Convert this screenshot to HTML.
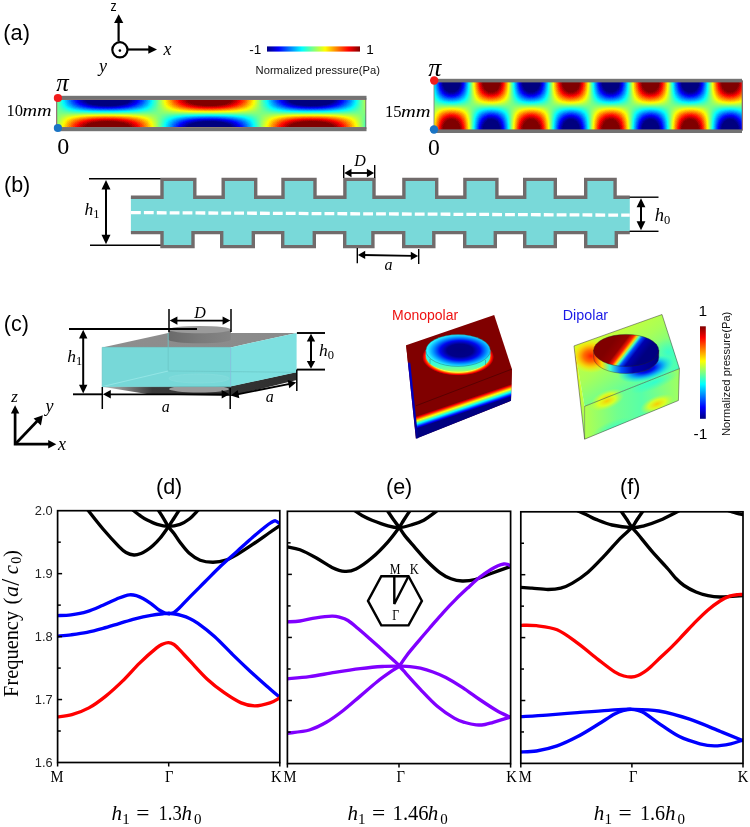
<!DOCTYPE html>
<html><head><meta charset="utf-8"><title>Figure</title>
<style>html,body{margin:0;padding:0;background:#fff;}svg{display:block;will-change:transform;}</style></head>
<body><svg width="750" height="827" viewBox="0 0 750 827">
<defs>
<linearGradient id="cbh" x1="0" y1="0" x2="1" y2="0"><stop offset="0.000" stop-color="#000080"/><stop offset="0.062" stop-color="#0000bf"/><stop offset="0.125" stop-color="#0000ff"/><stop offset="0.188" stop-color="#0040ff"/><stop offset="0.250" stop-color="#0080ff"/><stop offset="0.312" stop-color="#00bfff"/><stop offset="0.375" stop-color="#00ffff"/><stop offset="0.438" stop-color="#40ffbf"/><stop offset="0.500" stop-color="#80ff80"/><stop offset="0.562" stop-color="#bfff40"/><stop offset="0.625" stop-color="#ffff00"/><stop offset="0.688" stop-color="#ffbf00"/><stop offset="0.750" stop-color="#ff8000"/><stop offset="0.812" stop-color="#ff4000"/><stop offset="0.875" stop-color="#ff0000"/><stop offset="0.938" stop-color="#bf0000"/><stop offset="1.000" stop-color="#800000"/></linearGradient>
<filter id="jetf1" x="0" y="0" width="1" height="1" color-interpolation-filters="sRGB">
<feColorMatrix in="SourceGraphic" type="matrix" values="2 0 0 0 0 2 0 0 0 0 2 0 0 0 0 0 0 0 1 0" result="P"/>
<feColorMatrix in="SourceGraphic" type="matrix" values="0 2 0 0 0 0 2 0 0 0 0 2 0 0 0 0 0 0 1 0" result="Q"/>
<feComposite in="P" in2="Q" operator="arithmetic" k1="2" k2="-1" k3="-1" k4="1" result="V"/>
<feComponentTransfer in="V"><feFuncR type="table" tableValues="0 0 0 0 0 0 0 0 0 0 0 0 0 0 0 0 0 0 0 0 0 0 0 0 0 0 0.02 0.1 0.18 0.26 0.34 0.42 0.5 0.58 0.66 0.74 0.82 0.9 0.98 1 1 1 1 1 1 1 1 1 1 1 1 0.98 0.9 0.82 0.74 0.66 0.58 0.5 0.5 0.5 0.5 0.5 0.5 0.5 0.5"/><feFuncG type="table" tableValues="0 0 0 0 0 0 0 0 0 0 0 0 0 0 0.06 0.14 0.22 0.3 0.38 0.46 0.54 0.62 0.7 0.78 0.86 0.94 1 1 1 1 1 1 1 1 1 1 1 1 1 0.94 0.86 0.78 0.7 0.62 0.54 0.46 0.38 0.3 0.22 0.14 0.06 0 0 0 0 0 0 0 0 0 0 0 0 0 0"/><feFuncB type="table" tableValues="0.5 0.5 0.5 0.5 0.5 0.5 0.5 0.5 0.58 0.66 0.74 0.82 0.9 0.98 1 1 1 1 1 1 1 1 1 1 1 1 0.98 0.9 0.82 0.74 0.66 0.58 0.5 0.42 0.34 0.26 0.18 0.1 0.02 0 0 0 0 0 0 0 0 0 0 0 0 0 0 0 0 0 0 0 0 0 0 0 0 0 0"/><feFuncA type="identity"/></feComponentTransfer>
</filter>
<linearGradient id="f1h" gradientUnits="userSpaceOnUse" x1="56.5" y1="0" x2="366" y2="0"><stop offset="0.0000" stop-color="rgb(127,0,0)"/><stop offset="0.0097" stop-color="rgb(116,0,0)"/><stop offset="0.0194" stop-color="rgb(104,0,0)"/><stop offset="0.0291" stop-color="rgb(93,0,0)"/><stop offset="0.0388" stop-color="rgb(81,0,0)"/><stop offset="0.0485" stop-color="rgb(71,0,0)"/><stop offset="0.0583" stop-color="rgb(60,0,0)"/><stop offset="0.0680" stop-color="rgb(51,0,0)"/><stop offset="0.0777" stop-color="rgb(41,0,0)"/><stop offset="0.0874" stop-color="rgb(33,0,0)"/><stop offset="0.0971" stop-color="rgb(26,0,0)"/><stop offset="0.1068" stop-color="rgb(19,0,0)"/><stop offset="0.1165" stop-color="rgb(13,0,0)"/><stop offset="0.1262" stop-color="rgb(9,0,0)"/><stop offset="0.1359" stop-color="rgb(5,0,0)"/><stop offset="0.1456" stop-color="rgb(2,0,0)"/><stop offset="0.1553" stop-color="rgb(1,0,0)"/><stop offset="0.1650" stop-color="rgb(0,0,0)"/><stop offset="0.1748" stop-color="rgb(1,0,0)"/><stop offset="0.1845" stop-color="rgb(2,0,0)"/><stop offset="0.1942" stop-color="rgb(5,0,0)"/><stop offset="0.2039" stop-color="rgb(9,0,0)"/><stop offset="0.2136" stop-color="rgb(14,0,0)"/><stop offset="0.2233" stop-color="rgb(19,0,0)"/><stop offset="0.2330" stop-color="rgb(26,0,0)"/><stop offset="0.2427" stop-color="rgb(34,0,0)"/><stop offset="0.2524" stop-color="rgb(42,0,0)"/><stop offset="0.2621" stop-color="rgb(51,0,0)"/><stop offset="0.2718" stop-color="rgb(61,0,0)"/><stop offset="0.2816" stop-color="rgb(71,0,0)"/><stop offset="0.2913" stop-color="rgb(82,0,0)"/><stop offset="0.3010" stop-color="rgb(93,0,0)"/><stop offset="0.3107" stop-color="rgb(105,0,0)"/><stop offset="0.3204" stop-color="rgb(116,0,0)"/><stop offset="0.3301" stop-color="rgb(128,0,0)"/><stop offset="0.3398" stop-color="rgb(140,0,0)"/><stop offset="0.3495" stop-color="rgb(152,0,0)"/><stop offset="0.3592" stop-color="rgb(163,0,0)"/><stop offset="0.3689" stop-color="rgb(174,0,0)"/><stop offset="0.3786" stop-color="rgb(185,0,0)"/><stop offset="0.3883" stop-color="rgb(195,0,0)"/><stop offset="0.3981" stop-color="rgb(205,0,0)"/><stop offset="0.4078" stop-color="rgb(214,0,0)"/><stop offset="0.4175" stop-color="rgb(222,0,0)"/><stop offset="0.4272" stop-color="rgb(230,0,0)"/><stop offset="0.4369" stop-color="rgb(236,0,0)"/><stop offset="0.4466" stop-color="rgb(242,0,0)"/><stop offset="0.4563" stop-color="rgb(247,0,0)"/><stop offset="0.4660" stop-color="rgb(250,0,0)"/><stop offset="0.4757" stop-color="rgb(253,0,0)"/><stop offset="0.4854" stop-color="rgb(255,0,0)"/><stop offset="0.4951" stop-color="rgb(255,0,0)"/><stop offset="0.5049" stop-color="rgb(254,0,0)"/><stop offset="0.5146" stop-color="rgb(253,0,0)"/><stop offset="0.5243" stop-color="rgb(250,0,0)"/><stop offset="0.5340" stop-color="rgb(246,0,0)"/><stop offset="0.5437" stop-color="rgb(241,0,0)"/><stop offset="0.5534" stop-color="rgb(235,0,0)"/><stop offset="0.5631" stop-color="rgb(229,0,0)"/><stop offset="0.5728" stop-color="rgb(221,0,0)"/><stop offset="0.5825" stop-color="rgb(213,0,0)"/><stop offset="0.5922" stop-color="rgb(203,0,0)"/><stop offset="0.6019" stop-color="rgb(194,0,0)"/><stop offset="0.6117" stop-color="rgb(183,0,0)"/><stop offset="0.6214" stop-color="rgb(172,0,0)"/><stop offset="0.6311" stop-color="rgb(161,0,0)"/><stop offset="0.6408" stop-color="rgb(150,0,0)"/><stop offset="0.6505" stop-color="rgb(138,0,0)"/><stop offset="0.6602" stop-color="rgb(126,0,0)"/><stop offset="0.6699" stop-color="rgb(114,0,0)"/><stop offset="0.6796" stop-color="rgb(103,0,0)"/><stop offset="0.6893" stop-color="rgb(91,0,0)"/><stop offset="0.6990" stop-color="rgb(80,0,0)"/><stop offset="0.7087" stop-color="rgb(69,0,0)"/><stop offset="0.7184" stop-color="rgb(59,0,0)"/><stop offset="0.7282" stop-color="rgb(50,0,0)"/><stop offset="0.7379" stop-color="rgb(41,0,0)"/><stop offset="0.7476" stop-color="rgb(32,0,0)"/><stop offset="0.7573" stop-color="rgb(25,0,0)"/><stop offset="0.7670" stop-color="rgb(18,0,0)"/><stop offset="0.7767" stop-color="rgb(13,0,0)"/><stop offset="0.7864" stop-color="rgb(8,0,0)"/><stop offset="0.7961" stop-color="rgb(4,0,0)"/><stop offset="0.8058" stop-color="rgb(2,0,0)"/><stop offset="0.8155" stop-color="rgb(0,0,0)"/><stop offset="0.8252" stop-color="rgb(0,0,0)"/><stop offset="0.8350" stop-color="rgb(1,0,0)"/><stop offset="0.8447" stop-color="rgb(2,0,0)"/><stop offset="0.8544" stop-color="rgb(5,0,0)"/><stop offset="0.8641" stop-color="rgb(9,0,0)"/><stop offset="0.8738" stop-color="rgb(14,0,0)"/><stop offset="0.8835" stop-color="rgb(20,0,0)"/><stop offset="0.8932" stop-color="rgb(27,0,0)"/><stop offset="0.9029" stop-color="rgb(34,0,0)"/><stop offset="0.9126" stop-color="rgb(43,0,0)"/><stop offset="0.9223" stop-color="rgb(52,0,0)"/><stop offset="0.9320" stop-color="rgb(62,0,0)"/><stop offset="0.9417" stop-color="rgb(72,0,0)"/><stop offset="0.9515" stop-color="rgb(83,0,0)"/><stop offset="0.9612" stop-color="rgb(94,0,0)"/><stop offset="0.9709" stop-color="rgb(106,0,0)"/><stop offset="0.9806" stop-color="rgb(118,0,0)"/><stop offset="0.9903" stop-color="rgb(129,0,0)"/><stop offset="1.0000" stop-color="rgb(141,0,0)"/></linearGradient>
<linearGradient id="f1v" gradientUnits="userSpaceOnUse" x1="0" y1="99.5" x2="0" y2="127.5"><stop offset="0.0000" stop-color="rgb(0,255,0)"/><stop offset="0.0417" stop-color="rgb(0,254,0)"/><stop offset="0.0833" stop-color="rgb(0,251,0)"/><stop offset="0.1250" stop-color="rgb(0,245,0)"/><stop offset="0.1667" stop-color="rgb(0,238,0)"/><stop offset="0.2083" stop-color="rgb(0,229,0)"/><stop offset="0.2500" stop-color="rgb(0,218,0)"/><stop offset="0.2917" stop-color="rgb(0,205,0)"/><stop offset="0.3333" stop-color="rgb(0,191,0)"/><stop offset="0.3750" stop-color="rgb(0,176,0)"/><stop offset="0.4167" stop-color="rgb(0,160,0)"/><stop offset="0.4583" stop-color="rgb(0,144,0)"/><stop offset="0.5000" stop-color="rgb(0,128,0)"/><stop offset="0.5417" stop-color="rgb(0,111,0)"/><stop offset="0.5833" stop-color="rgb(0,95,0)"/><stop offset="0.6250" stop-color="rgb(0,79,0)"/><stop offset="0.6667" stop-color="rgb(0,64,0)"/><stop offset="0.7083" stop-color="rgb(0,50,0)"/><stop offset="0.7500" stop-color="rgb(0,37,0)"/><stop offset="0.7917" stop-color="rgb(0,26,0)"/><stop offset="0.8333" stop-color="rgb(0,17,0)"/><stop offset="0.8750" stop-color="rgb(0,10,0)"/><stop offset="0.9167" stop-color="rgb(0,4,0)"/><stop offset="0.9583" stop-color="rgb(0,1,0)"/><stop offset="1.0000" stop-color="rgb(0,0,0)"/></linearGradient>
<filter id="jetf2" x="0" y="0" width="1" height="1" color-interpolation-filters="sRGB">
<feColorMatrix in="SourceGraphic" type="matrix" values="2 0 0 0 0 2 0 0 0 0 2 0 0 0 0 0 0 0 1 0" result="P"/>
<feColorMatrix in="SourceGraphic" type="matrix" values="0 2 0 0 0 0 2 0 0 0 0 2 0 0 0 0 0 0 1 0" result="Q"/>
<feComposite in="P" in2="Q" operator="arithmetic" k1="2" k2="-1" k3="-1" k4="1" result="V"/>
<feComponentTransfer in="V"><feFuncR type="table" tableValues="0 0 0 0 0 0 0 0 0 0 0 0 0 0 0 0 0 0 0 0 0 0 0 0 0 0 0.02 0.1 0.18 0.26 0.34 0.42 0.5 0.58 0.66 0.74 0.82 0.9 0.98 1 1 1 1 1 1 1 1 1 1 1 1 0.98 0.9 0.82 0.74 0.66 0.58 0.5 0.5 0.5 0.5 0.5 0.5 0.5 0.5"/><feFuncG type="table" tableValues="0 0 0 0 0 0 0 0 0 0 0 0 0 0 0.06 0.14 0.22 0.3 0.38 0.46 0.54 0.62 0.7 0.78 0.86 0.94 1 1 1 1 1 1 1 1 1 1 1 1 1 0.94 0.86 0.78 0.7 0.62 0.54 0.46 0.38 0.3 0.22 0.14 0.06 0 0 0 0 0 0 0 0 0 0 0 0 0 0"/><feFuncB type="table" tableValues="0.5 0.5 0.5 0.5 0.5 0.5 0.5 0.5 0.58 0.66 0.74 0.82 0.9 0.98 1 1 1 1 1 1 1 1 1 1 1 1 0.98 0.9 0.82 0.74 0.66 0.58 0.5 0.42 0.34 0.26 0.18 0.1 0.02 0 0 0 0 0 0 0 0 0 0 0 0 0 0 0 0 0 0 0 0 0 0 0 0 0 0"/><feFuncA type="identity"/></feComponentTransfer>
</filter>
<linearGradient id="f2h" gradientUnits="userSpaceOnUse" x1="434" y1="0" x2="742.5" y2="0"><stop offset="0.0000" stop-color="rgb(103,0,0)"/><stop offset="0.0098" stop-color="rgb(75,0,0)"/><stop offset="0.0196" stop-color="rgb(49,0,0)"/><stop offset="0.0294" stop-color="rgb(27,0,0)"/><stop offset="0.0392" stop-color="rgb(11,0,0)"/><stop offset="0.0490" stop-color="rgb(2,0,0)"/><stop offset="0.0588" stop-color="rgb(0,0,0)"/><stop offset="0.0686" stop-color="rgb(5,0,0)"/><stop offset="0.0784" stop-color="rgb(17,0,0)"/><stop offset="0.0882" stop-color="rgb(36,0,0)"/><stop offset="0.0980" stop-color="rgb(59,0,0)"/><stop offset="0.1078" stop-color="rgb(87,0,0)"/><stop offset="0.1176" stop-color="rgb(116,0,0)"/><stop offset="0.1275" stop-color="rgb(147,0,0)"/><stop offset="0.1373" stop-color="rgb(176,0,0)"/><stop offset="0.1471" stop-color="rgb(203,0,0)"/><stop offset="0.1569" stop-color="rgb(225,0,0)"/><stop offset="0.1667" stop-color="rgb(241,0,0)"/><stop offset="0.1765" stop-color="rgb(252,0,0)"/><stop offset="0.1863" stop-color="rgb(255,0,0)"/><stop offset="0.1961" stop-color="rgb(251,0,0)"/><stop offset="0.2059" stop-color="rgb(240,0,0)"/><stop offset="0.2157" stop-color="rgb(223,0,0)"/><stop offset="0.2255" stop-color="rgb(200,0,0)"/><stop offset="0.2353" stop-color="rgb(173,0,0)"/><stop offset="0.2451" stop-color="rgb(143,0,0)"/><stop offset="0.2549" stop-color="rgb(113,0,0)"/><stop offset="0.2647" stop-color="rgb(84,0,0)"/><stop offset="0.2745" stop-color="rgb(56,0,0)"/><stop offset="0.2843" stop-color="rgb(33,0,0)"/><stop offset="0.2941" stop-color="rgb(16,0,0)"/><stop offset="0.3039" stop-color="rgb(4,0,0)"/><stop offset="0.3137" stop-color="rgb(0,0,0)"/><stop offset="0.3235" stop-color="rgb(3,0,0)"/><stop offset="0.3333" stop-color="rgb(13,0,0)"/><stop offset="0.3431" stop-color="rgb(29,0,0)"/><stop offset="0.3529" stop-color="rgb(51,0,0)"/><stop offset="0.3627" stop-color="rgb(78,0,0)"/><stop offset="0.3725" stop-color="rgb(107,0,0)"/><stop offset="0.3824" stop-color="rgb(137,0,0)"/><stop offset="0.3922" stop-color="rgb(167,0,0)"/><stop offset="0.4020" stop-color="rgb(194,0,0)"/><stop offset="0.4118" stop-color="rgb(218,0,0)"/><stop offset="0.4216" stop-color="rgb(237,0,0)"/><stop offset="0.4314" stop-color="rgb(249,0,0)"/><stop offset="0.4412" stop-color="rgb(255,0,0)"/><stop offset="0.4510" stop-color="rgb(253,0,0)"/><stop offset="0.4608" stop-color="rgb(244,0,0)"/><stop offset="0.4706" stop-color="rgb(229,0,0)"/><stop offset="0.4804" stop-color="rgb(208,0,0)"/><stop offset="0.4902" stop-color="rgb(182,0,0)"/><stop offset="0.5000" stop-color="rgb(153,0,0)"/><stop offset="0.5098" stop-color="rgb(123,0,0)"/><stop offset="0.5196" stop-color="rgb(93,0,0)"/><stop offset="0.5294" stop-color="rgb(65,0,0)"/><stop offset="0.5392" stop-color="rgb(40,0,0)"/><stop offset="0.5490" stop-color="rgb(21,0,0)"/><stop offset="0.5588" stop-color="rgb(7,0,0)"/><stop offset="0.5686" stop-color="rgb(1,0,0)"/><stop offset="0.5784" stop-color="rgb(1,0,0)"/><stop offset="0.5882" stop-color="rgb(9,0,0)"/><stop offset="0.5980" stop-color="rgb(23,0,0)"/><stop offset="0.6078" stop-color="rgb(44,0,0)"/><stop offset="0.6176" stop-color="rgb(69,0,0)"/><stop offset="0.6275" stop-color="rgb(97,0,0)"/><stop offset="0.6373" stop-color="rgb(127,0,0)"/><stop offset="0.6471" stop-color="rgb(158,0,0)"/><stop offset="0.6569" stop-color="rgb(186,0,0)"/><stop offset="0.6667" stop-color="rgb(211,0,0)"/><stop offset="0.6765" stop-color="rgb(232,0,0)"/><stop offset="0.6863" stop-color="rgb(246,0,0)"/><stop offset="0.6961" stop-color="rgb(254,0,0)"/><stop offset="0.7059" stop-color="rgb(254,0,0)"/><stop offset="0.7157" stop-color="rgb(248,0,0)"/><stop offset="0.7255" stop-color="rgb(234,0,0)"/><stop offset="0.7353" stop-color="rgb(215,0,0)"/><stop offset="0.7451" stop-color="rgb(190,0,0)"/><stop offset="0.7549" stop-color="rgb(162,0,0)"/><stop offset="0.7647" stop-color="rgb(132,0,0)"/><stop offset="0.7745" stop-color="rgb(102,0,0)"/><stop offset="0.7843" stop-color="rgb(73,0,0)"/><stop offset="0.7941" stop-color="rgb(48,0,0)"/><stop offset="0.8039" stop-color="rgb(26,0,0)"/><stop offset="0.8137" stop-color="rgb(11,0,0)"/><stop offset="0.8235" stop-color="rgb(2,0,0)"/><stop offset="0.8333" stop-color="rgb(0,0,0)"/><stop offset="0.8431" stop-color="rgb(6,0,0)"/><stop offset="0.8529" stop-color="rgb(18,0,0)"/><stop offset="0.8627" stop-color="rgb(37,0,0)"/><stop offset="0.8725" stop-color="rgb(60,0,0)"/><stop offset="0.8824" stop-color="rgb(88,0,0)"/><stop offset="0.8922" stop-color="rgb(118,0,0)"/><stop offset="0.9020" stop-color="rgb(148,0,0)"/><stop offset="0.9118" stop-color="rgb(177,0,0)"/><stop offset="0.9216" stop-color="rgb(204,0,0)"/><stop offset="0.9314" stop-color="rgb(226,0,0)"/><stop offset="0.9412" stop-color="rgb(242,0,0)"/><stop offset="0.9510" stop-color="rgb(252,0,0)"/><stop offset="0.9608" stop-color="rgb(255,0,0)"/><stop offset="0.9706" stop-color="rgb(251,0,0)"/><stop offset="0.9804" stop-color="rgb(239,0,0)"/><stop offset="0.9902" stop-color="rgb(222,0,0)"/><stop offset="1.0000" stop-color="rgb(199,0,0)"/></linearGradient>
<linearGradient id="f2v" gradientUnits="userSpaceOnUse" x1="0" y1="81.5" x2="0" y2="130"><stop offset="0.0000" stop-color="rgb(0,255,0)"/><stop offset="0.0417" stop-color="rgb(0,254,0)"/><stop offset="0.0833" stop-color="rgb(0,251,0)"/><stop offset="0.1250" stop-color="rgb(0,245,0)"/><stop offset="0.1667" stop-color="rgb(0,238,0)"/><stop offset="0.2083" stop-color="rgb(0,229,0)"/><stop offset="0.2500" stop-color="rgb(0,218,0)"/><stop offset="0.2917" stop-color="rgb(0,205,0)"/><stop offset="0.3333" stop-color="rgb(0,191,0)"/><stop offset="0.3750" stop-color="rgb(0,176,0)"/><stop offset="0.4167" stop-color="rgb(0,160,0)"/><stop offset="0.4583" stop-color="rgb(0,144,0)"/><stop offset="0.5000" stop-color="rgb(0,128,0)"/><stop offset="0.5417" stop-color="rgb(0,111,0)"/><stop offset="0.5833" stop-color="rgb(0,95,0)"/><stop offset="0.6250" stop-color="rgb(0,79,0)"/><stop offset="0.6667" stop-color="rgb(0,64,0)"/><stop offset="0.7083" stop-color="rgb(0,50,0)"/><stop offset="0.7500" stop-color="rgb(0,37,0)"/><stop offset="0.7917" stop-color="rgb(0,26,0)"/><stop offset="0.8333" stop-color="rgb(0,17,0)"/><stop offset="0.8750" stop-color="rgb(0,10,0)"/><stop offset="0.9167" stop-color="rgb(0,4,0)"/><stop offset="0.9583" stop-color="rgb(0,1,0)"/><stop offset="1.0000" stop-color="rgb(0,0,0)"/></linearGradient>
<linearGradient id="shd" x1="0" y1="0" x2="1" y2="0"><stop offset="0" stop-color="#bdbdbd"/><stop offset="0.25" stop-color="#3a3a3a"/><stop offset="1" stop-color="#2e2e2e"/></linearGradient>
<linearGradient id="topg" x1="0" y1="0" x2="1" y2="0"><stop offset="0" stop-color="#8e8e8e"/><stop offset="1" stop-color="#8a8a8a"/></linearGradient>
<linearGradient id="cyls" x1="0" y1="0" x2="1" y2="0"><stop offset="0" stop-color="#6a6a6a"/><stop offset="0.5" stop-color="#7a7a7a"/><stop offset="1" stop-color="#858585"/></linearGradient>
<linearGradient id="mfront" gradientUnits="userSpaceOnUse" x1="414.56" y1="416.74" x2="418.40" y2="428.11"><stop offset="0.000" stop-color="#800000"/><stop offset="0.062" stop-color="#bf0000"/><stop offset="0.125" stop-color="#ff0000"/><stop offset="0.188" stop-color="#ff4000"/><stop offset="0.250" stop-color="#ff8000"/><stop offset="0.312" stop-color="#ffbf00"/><stop offset="0.375" stop-color="#ffff00"/><stop offset="0.438" stop-color="#bfff40"/><stop offset="0.500" stop-color="#80ff80"/><stop offset="0.562" stop-color="#40ffbf"/><stop offset="0.625" stop-color="#00ffff"/><stop offset="0.688" stop-color="#00bfff"/><stop offset="0.750" stop-color="#0080ff"/><stop offset="0.812" stop-color="#0040ff"/><stop offset="0.875" stop-color="#0000ff"/><stop offset="0.938" stop-color="#0000bf"/><stop offset="1.000" stop-color="#000080"/></linearGradient>
<linearGradient id="mleft" gradientUnits="userSpaceOnUse" x1="0" y1="345" x2="0" y2="439"><stop offset="0" stop-color="#800000"/><stop offset="0.18" stop-color="#800000"/><stop offset="0.2" stop-color="#0000c8"/><stop offset="0.8" stop-color="#0000b0"/><stop offset="1" stop-color="#000088"/></linearGradient>
<radialGradient id="mhalo" cx="0.5" cy="0.5" r="0.5"><stop offset="0.82" stop-color="#ffff40"/><stop offset="0.88" stop-color="#ff8000"/><stop offset="0.94" stop-color="#ff0000"/><stop offset="1" stop-color="#800000"/></radialGradient>
<linearGradient id="mside" x1="0" y1="0" x2="0" y2="1"><stop offset="0" stop-color="#20e8ff"/><stop offset="0.7" stop-color="#40ffd0"/><stop offset="1" stop-color="#a0ff60"/></linearGradient>
<radialGradient id="mtop" cx="0.53" cy="0.5" r="0.5"><stop offset="0" stop-color="#000080"/><stop offset="0.4" stop-color="#000088"/><stop offset="0.62" stop-color="#0008f0"/><stop offset="0.82" stop-color="#0090ff"/><stop offset="1" stop-color="#28f0ff"/></radialGradient>
<clipPath id="dtopc"><polygon points="574.0,345.9 662.0,314.5 679.4,368.6 584.6,406.3"/></clipPath>
<clipPath id="dfrc"><polygon points="584.6,406.3 679.4,368.6 678.4,400.5 584.6,439.2"/></clipPath>
<clipPath id="dlc"><polygon points="574.0,345.9 584.6,406.3 584.6,439.2"/></clipPath>
<radialGradient id="yb"><stop offset="0" stop-color="#ffc800" stop-opacity="0.95"/><stop offset="0.5" stop-color="#ffff00" stop-opacity="0.7"/><stop offset="1" stop-color="#d0ff30" stop-opacity="0"/></radialGradient>
<radialGradient id="rglow"><stop offset="0" stop-color="#ff2000"/><stop offset="0.35" stop-color="#ff7000"/><stop offset="0.65" stop-color="#ffd000" stop-opacity="0.85"/><stop offset="1" stop-color="#ffff00" stop-opacity="0"/></radialGradient>
<radialGradient id="bglow"><stop offset="0" stop-color="#000090"/><stop offset="0.3" stop-color="#0010f0"/><stop offset="0.6" stop-color="#00a0ff" stop-opacity="0.9"/><stop offset="1" stop-color="#00ffff" stop-opacity="0"/></radialGradient>
<radialGradient id="cglow"><stop offset="0" stop-color="#20ffe0"/><stop offset="1" stop-color="#20ffe0" stop-opacity="0"/></radialGradient>
<linearGradient id="dleft" gradientUnits="userSpaceOnUse" x1="0" y1="346" x2="0" y2="439"><stop offset="0" stop-color="#d0ff30"/><stop offset="0.15" stop-color="#ffa000"/><stop offset="0.3" stop-color="#e0ff20"/><stop offset="1" stop-color="#90ff70"/></linearGradient>
<linearGradient id="dfront" gradientUnits="userSpaceOnUse" x1="585" y1="0" x2="679" y2="0"><stop offset="0" stop-color="#b0ff50"/><stop offset="0.35" stop-color="#70ff90"/><stop offset="0.6" stop-color="#58ffa8"/><stop offset="1" stop-color="#a0ff60"/></linearGradient>
<linearGradient id="dtop" gradientUnits="userSpaceOnUse" x1="600" y1="322" x2="650" y2="392"><stop offset="0" stop-color="#d8ff28"/><stop offset="0.45" stop-color="#a8ff58"/><stop offset="1" stop-color="#40ffc0"/></linearGradient>
<linearGradient id="dside" gradientUnits="userSpaceOnUse" x1="594" y1="0" x2="659" y2="0"><stop offset="0" stop-color="#ff3000"/><stop offset="0.12" stop-color="#ffe000"/><stop offset="0.25" stop-color="#40ffd0"/><stop offset="0.42" stop-color="#0050ff"/><stop offset="0.6" stop-color="#0000b0"/><stop offset="1" stop-color="#000080"/></linearGradient>
<linearGradient id="dcyl" gradientUnits="userSpaceOnUse" x1="614.5" y1="339.4" x2="640.5" y2="359.4"><stop offset="0" stop-color="#800000"/><stop offset="0.28" stop-color="#950000"/><stop offset="0.4" stop-color="#ff2000"/><stop offset="0.48" stop-color="#ffd000"/><stop offset="0.55" stop-color="#40ffc0"/><stop offset="0.63" stop-color="#0050ff"/><stop offset="0.75" stop-color="#0000b0"/><stop offset="1" stop-color="#000080"/></linearGradient>
<linearGradient id="cbv" x1="0" y1="1" x2="0" y2="0"><stop offset="0.000" stop-color="#000080"/><stop offset="0.062" stop-color="#0000bf"/><stop offset="0.125" stop-color="#0000ff"/><stop offset="0.188" stop-color="#0040ff"/><stop offset="0.250" stop-color="#0080ff"/><stop offset="0.312" stop-color="#00bfff"/><stop offset="0.375" stop-color="#00ffff"/><stop offset="0.438" stop-color="#40ffbf"/><stop offset="0.500" stop-color="#80ff80"/><stop offset="0.562" stop-color="#bfff40"/><stop offset="0.625" stop-color="#ffff00"/><stop offset="0.688" stop-color="#ffbf00"/><stop offset="0.750" stop-color="#ff8000"/><stop offset="0.812" stop-color="#ff4000"/><stop offset="0.875" stop-color="#ff0000"/><stop offset="0.938" stop-color="#bf0000"/><stop offset="1.000" stop-color="#800000"/></linearGradient>
<clipPath id="clipd"><rect x="57.6" y="510.7" width="222.20000000000002" height="251.8"/></clipPath>
<clipPath id="clipe"><rect x="287.4" y="511.3" width="223.20000000000005" height="252.3"/></clipPath>
<clipPath id="clipf"><rect x="520.8" y="511.8" width="222.20000000000005" height="251.59999999999997"/></clipPath>
<marker id="ah" viewBox="0 0 10 10" refX="10" refY="5" markerWidth="10" markerHeight="10" orient="auto-start-reverse" markerUnits="userSpaceOnUse"><path d="M0,0 L10,5 L0,10 z" fill="#000"/></marker>
</defs>
<rect width="750" height="827" fill="#fff"/>
<text x="3.3" y="40.2" font-family='"Liberation Sans", sans-serif' font-size="21.8" fill="#000" text-anchor="start" >(a)</text>
<line x1="118.6" y1="41.5" x2="118.6" y2="22" stroke="#000" stroke-width="2.2"/>
<path d="M118.7,14.3 L123.3,23 L114.1,23 Z" fill="#000"/>
<circle cx="119.9" cy="49.8" r="7.6" fill="none" stroke="#000" stroke-width="2.2"/>
<circle cx="119.9" cy="50.6" r="1.3" fill="#000"/>
<line x1="127.5" y1="49.5" x2="149" y2="49.5" stroke="#000" stroke-width="2.2"/>
<path d="M157,49.5 L148.3,45.2 L148.3,53.8 Z" fill="#000"/>
<text transform="translate(110.4,10.7) scale(0.8,1)" font-family='"Liberation Sans", sans-serif' font-size="15.4">z</text>
<text x="163.5" y="54.9" font-family='"Liberation Serif", serif' font-size="18" font-style="italic" fill="#000" text-anchor="start" >x</text>
<text x="99" y="71.5" font-family='"Liberation Serif", serif' font-size="18" font-style="italic" fill="#000" text-anchor="start" >y</text>
<text x="249.3" y="53.8" font-family='"Liberation Sans", sans-serif' font-size="13.5" fill="#000" text-anchor="start" >-1</text>
<rect x="267" y="46.4" width="93" height="5.2" fill="url(#cbh)"/>
<text x="366.3" y="53.8" font-family='"Liberation Sans", sans-serif' font-size="13.5" fill="#000" text-anchor="start" >1</text>
<text x="255.6" y="74.2" font-family='"Liberation Sans", sans-serif' font-size="11.2" fill="#111" text-anchor="start" >Normalized pressure(Pa)</text>
<g filter="url(#jetf1)"><rect x="56.5" y="99.5" width="309.5" height="28.0" fill="url(#f1h)"/><rect x="56.5" y="99.5" width="309.5" height="28.0" fill="url(#f1v)" fill-opacity="0.5"/></g>
<rect x="59.5" y="95.8" width="307" height="4" fill="#737373"/>
<rect x="59.5" y="127.2" width="307" height="4" fill="#737373"/>
<line x1="56.8" y1="98" x2="56.8" y2="128" stroke="#777" stroke-width="0.8"/>
<line x1="365.8" y1="98" x2="365.8" y2="129" stroke="#666" stroke-width="0.9"/>
<circle cx="57.9" cy="98" r="4.1" fill="#f21c1c"/>
<circle cx="57.9" cy="128" r="4.1" fill="#1a74c4"/>
<text x="56.2" y="91" font-family='"Liberation Serif", serif' font-size="25" font-style="italic" fill="#000" text-anchor="start" >π</text>
<text x="57.3" y="154.1" font-family='"Liberation Serif", serif' font-size="24" fill="#000" text-anchor="start" >0</text>
<text x="6.6" y="116.3" font-family='"Liberation Serif", serif' font-size="16.5">10</text><text x="22.5" y="116.3" font-family='"Liberation Serif", serif' font-size="16.5" font-style="italic" textLength="29.2" lengthAdjust="spacingAndGlyphs">mm</text>
<g filter="url(#jetf2)"><rect x="434" y="81.5" width="308.5" height="48.5" fill="url(#f2h)"/><rect x="434" y="81.5" width="308.5" height="48.5" fill="url(#f2v)" fill-opacity="0.5"/></g>
<rect x="436" y="78.8" width="306" height="3.6" fill="#737373"/>
<rect x="436" y="129.4" width="306" height="3.6" fill="#737373"/>
<line x1="434" y1="80" x2="434" y2="130" stroke="#777" stroke-width="0.8"/>
<line x1="742.2" y1="80" x2="742.2" y2="131" stroke="#666" stroke-width="0.9"/>
<circle cx="434.2" cy="80.5" r="4.2" fill="#f21c1c"/>
<circle cx="434" cy="129.5" r="4.2" fill="#1a74c4"/>
<text x="428.2" y="75.5" font-family='"Liberation Serif", serif' font-size="26" font-style="italic" fill="#000" text-anchor="start" >π</text>
<text x="428.1" y="155.1" font-family='"Liberation Serif", serif' font-size="23.6" fill="#000" text-anchor="start" >0</text>
<text x="385" y="116.8" font-family='"Liberation Serif", serif' font-size="16.5">15</text><text x="400.9" y="116.8" font-family='"Liberation Serif", serif' font-size="16.5" font-style="italic" textLength="29.6" lengthAdjust="spacingAndGlyphs">mm</text>
<text x="4" y="192.2" font-family='"Liberation Sans", sans-serif' font-size="21.5" fill="#000" text-anchor="start" >(b)</text>
<polygon points="130.9,197.2 162.0,197.2 162.0,179.4 194.8,179.4 194.8,197.2 223.2,197.2 223.2,179.4 255.7,179.4 255.7,197.2 283.0,197.2 283.0,179.4 315.0,179.4 315.0,197.2 344.9,197.2 344.9,179.4 374.0,179.4 374.0,197.2 403.9,197.2 403.9,179.4 436.7,179.4 436.7,197.2 464.9,197.2 464.9,179.4 496.9,179.4 496.9,197.2 524.7,197.2 524.7,179.4 555.3,179.4 555.3,197.2 585.7,197.2 585.7,179.4 615.1,179.4 615.1,197.2 629.8,197.2 629.8,232.6 616.3,232.6 616.3,246.6 585.7,246.6 585.7,232.6 555.3,232.6 555.3,246.6 524.7,246.6 524.7,232.6 495.3,232.6 495.3,246.6 464.7,246.6 464.7,232.6 433.8,232.6 433.8,246.6 403.7,246.6 403.7,232.6 372.9,232.6 372.9,246.6 344.7,246.6 344.7,232.6 314.3,232.6 314.3,246.6 282.7,246.6 282.7,232.6 253.3,232.6 253.3,246.6 221.7,246.6 221.7,232.6 193.0,232.6 193.0,246.6 162.0,246.6 162.0,232.6 130.9,232.6" fill="#79d9d9"/>
<polyline points="130.9,197.2 162.0,197.2 162.0,179.4 194.8,179.4 194.8,197.2 223.2,197.2 223.2,179.4 255.7,179.4 255.7,197.2 283.0,197.2 283.0,179.4 315.0,179.4 315.0,197.2 344.9,197.2 344.9,179.4 374.0,179.4 374.0,197.2 403.9,197.2 403.9,179.4 436.7,179.4 436.7,197.2 464.9,197.2 464.9,179.4 496.9,179.4 496.9,197.2 524.7,197.2 524.7,179.4 555.3,179.4 555.3,197.2 585.7,197.2 585.7,179.4 615.1,179.4 615.1,197.2 629.8,197.2" fill="none" stroke="#716b6b" stroke-width="3.4" stroke-linejoin="miter"/>
<polyline points="130.9,232.6 162.0,232.6 162.0,246.6 193.0,246.6 193.0,232.6 221.7,232.6 221.7,246.6 253.3,246.6 253.3,232.6 282.7,232.6 282.7,246.6 314.3,246.6 314.3,232.6 344.7,232.6 344.7,246.6 372.9,246.6 372.9,232.6 403.7,232.6 403.7,246.6 433.8,246.6 433.8,232.6 464.7,232.6 464.7,246.6 495.3,246.6 495.3,232.6 524.7,232.6 524.7,246.6 555.3,246.6 555.3,232.6 585.7,232.6 585.7,246.6 616.3,246.6 616.3,232.6 629.8,232.6" fill="none" stroke="#716b6b" stroke-width="3.4" stroke-linejoin="miter"/>
<line x1="131" y1="212.6" x2="629.8" y2="215.2" stroke="#fff" stroke-width="3.3" stroke-dasharray="9.8 3.1"/>
<line x1="89" y1="178.8" x2="160.5" y2="178.8" stroke="#000" stroke-width="1.4"/>
<line x1="90" y1="245.2" x2="160.5" y2="245.2" stroke="#000" stroke-width="1.4"/>
<line x1="106" y1="187" x2="106" y2="238" stroke="#000" stroke-width="2"/>
<path d="M106,180 L110.5,189.5 L101.5,189.5 Z M106,244.3 L110.5,234.8 L101.5,234.8 Z" fill="#000"/>
<text x="84.5" y="214.5" font-family='"Liberation Serif", serif' font-size="17.5" font-style="italic">h<tspan font-style="normal" font-size="12.5" dy="3">1</tspan></text>
<line x1="629.6" y1="197.2" x2="658.5" y2="197.2" stroke="#000" stroke-width="1.4"/>
<line x1="629.6" y1="231.3" x2="658.5" y2="231.3" stroke="#000" stroke-width="1.4"/>
<line x1="641" y1="205" x2="641" y2="223.5" stroke="#000" stroke-width="2"/>
<path d="M641,198.3 L645.4,207.3 L636.6,207.3 Z M641,230.2 L645.4,221.2 L636.6,221.2 Z" fill="#000"/>
<text x="654.8" y="221" font-family='"Liberation Serif", serif' font-size="18.5" font-style="italic">h<tspan font-style="normal" font-size="12.5" dy="3">0</tspan></text>
<line x1="343.7" y1="165" x2="343.7" y2="178" stroke="#000" stroke-width="1.4"/>
<line x1="374.7" y1="165" x2="374.7" y2="178" stroke="#000" stroke-width="1.4"/>
<line x1="350" y1="173" x2="368.5" y2="173" stroke="#000" stroke-width="1.8"/>
<path d="M344.3,173 L351.5,168.8 L351.5,177.2 Z M374.1,173 L366.9,168.8 L366.9,177.2 Z" fill="#000"/>
<text x="354.2" y="165.6" font-family='"Liberation Serif", serif' font-size="16" font-style="italic" fill="#000" text-anchor="start" >D</text>
<line x1="357.3" y1="248" x2="357.3" y2="263.3" stroke="#000" stroke-width="1.4"/>
<line x1="418.7" y1="249" x2="418.7" y2="264" stroke="#000" stroke-width="1.4"/>
<line x1="363" y1="255" x2="413" y2="255.8" stroke="#000" stroke-width="1.8"/>
<path d="M357.9,254.9 L365.2,250.8 L365.2,259 Z M418.1,255.9 L410.8,251.8 L410.8,260 Z" fill="#000"/>
<text x="384.4" y="270.2" font-family='"Liberation Serif", serif' font-size="16" font-style="italic" fill="#000" text-anchor="start" >a</text>
<text x="3.8" y="331.2" font-family='"Liberation Sans", sans-serif' font-size="21.5" fill="#000" text-anchor="start" >(c)</text>
<polygon points="104.0,387.0 230.6,386.3 296.8,372.0 296.8,380.0 231.0,396.0 150.0,394.5" fill="url(#shd)"/>
<ellipse cx="199" cy="389" rx="30" ry="3.5" fill="#9a9a9a"/>
<polygon points="102.2,347.4 230.6,347.4 296.6,333.0 168.2,333.0" fill="url(#topg)"/>
<path d="M168.4,329.6 L168.4,339.6 A31.3,3.6 0 0 0 231,339.6 L231,329.6 Z" fill="url(#cyls)"/>
<ellipse cx="199.7" cy="329.6" rx="31.3" ry="3.6" fill="#9b9b9b"/>
<polygon points="102.2,347.4 230.6,347.4 230.6,386.6 102.2,386.6" fill="#77d8d8"/>
<polygon points="230.6,347.4 296.6,333.0 296.6,372.3 230.6,386.6" fill="#7de0e0"/>
<polyline points="168.2,333.0 168.2,371.0 296.6,372.3" fill="none" stroke="#6cc8c8" stroke-width="0.8"/>
<line x1="102.2" y1="386.6" x2="168.2" y2="371" stroke="#9ae8e8" stroke-width="0.8"/>
<ellipse cx="199" cy="378.5" rx="30" ry="4.5" fill="#7edada" stroke="#8adede" stroke-width="0.6"/>
<polygon points="102.2,347.4 230.6,347.4 230.6,386.6 102.2,386.6" fill="none" stroke="#62c4c4" stroke-width="0.7"/>
<line x1="230.6" y1="347.4" x2="230.6" y2="386.6" stroke="#9be" stroke-width="0.5"/>
<line x1="69" y1="329" x2="197" y2="329" stroke="#000" stroke-width="1.9"/>
<line x1="73" y1="394.3" x2="102.3" y2="394.3" stroke="#000" stroke-width="1.9"/>
<line x1="83.2" y1="337" x2="83.2" y2="386" stroke="#000" stroke-width="2"/>
<path d="M83.2,329.8 L87.4,338.5 L79,338.5 Z M83.2,393.5 L87.4,384.8 L79,384.8 Z" fill="#000"/>
<text x="67.2" y="362.3" font-family='"Liberation Serif", serif' font-size="17.5" font-style="italic">h<tspan font-style="normal" font-size="12.5" dy="3">1</tspan></text>
<line x1="169" y1="309" x2="169" y2="332" stroke="#000" stroke-width="1.5"/>
<line x1="231" y1="309" x2="231" y2="332" stroke="#000" stroke-width="1.5"/>
<line x1="176" y1="320.6" x2="224" y2="320.6" stroke="#000" stroke-width="1.8"/>
<path d="M169.6,320.6 L177.4,316.4 L177.4,324.8 Z M230.4,320.6 L222.6,316.4 L222.6,324.8 Z" fill="#000"/>
<text x="194.3" y="318.2" font-family='"Liberation Serif", serif' font-size="16" font-style="italic" fill="#000" text-anchor="start" >D</text>
<line x1="296.9" y1="333" x2="325" y2="333" stroke="#000" stroke-width="1.9"/>
<line x1="296.9" y1="369.6" x2="325" y2="369.6" stroke="#000" stroke-width="1.9"/>
<line x1="311" y1="340" x2="311" y2="362" stroke="#000" stroke-width="2"/>
<path d="M311,333.8 L315.2,341.5 L306.8,341.5 Z M311,368.8 L315.2,361.1 L306.8,361.1 Z" fill="#000"/>
<text x="319" y="355.5" font-family='"Liberation Serif", serif' font-size="17.5" font-style="italic">h<tspan font-style="normal" font-size="12.5" dy="3">0</tspan></text>
<line x1="102.3" y1="387" x2="102.3" y2="409" stroke="#000" stroke-width="1.5"/>
<line x1="230.2" y1="388" x2="230.2" y2="409" stroke="#000" stroke-width="1.5"/>
<line x1="109" y1="394.3" x2="223" y2="394.3" stroke="#000" stroke-width="1.8"/>
<path d="M102.9,394.3 L110.8,390.1 L110.8,398.5 Z M229.6,394.3 L221.7,390.1 L221.7,398.5 Z" fill="#000"/>
<text x="161.8" y="411.8" font-family='"Liberation Serif", serif' font-size="16" font-style="italic" fill="#000" text-anchor="start" >a</text>
<line x1="296.8" y1="369.6" x2="296.8" y2="391" stroke="#000" stroke-width="1.5"/>
<g transform="translate(230.2,395.7) rotate(-11.21)"><line x1="6" y1="0" x2="62" y2="0" stroke="#000" stroke-width="1.8"/><path d="M0.6,0 L8.5,-4.2 L8.5,4.2 Z M67.3,0 L59.4,-4.2 L59.4,4.2 Z" fill="#000"/></g>
<text x="265.8" y="401.6" font-family='"Liberation Serif", serif' font-size="16" font-style="italic" fill="#000" text-anchor="start" >a</text>
<polyline points="15.1,412 15.1,444.2 49,444.2" fill="none" stroke="#000" stroke-width="2.7"/>
<path d="M15.1,405.3 L19.3,413.5 L10.9,413.5 Z M56.3,444.2 L48.2,440 L48.2,448.4 Z" fill="#000"/>
<line x1="15.1" y1="444.2" x2="37.5" y2="420.8" stroke="#000" stroke-width="2.7"/>
<path d="M42.8,415.2 L40.9,425.4 L33.6,418.4 Z" fill="#000"/>
<text x="11.3" y="401.8" font-family='"Liberation Serif", serif' font-size="17" font-style="italic" fill="#000" text-anchor="start" >z</text>
<text x="45.5" y="411.5" font-family='"Liberation Serif", serif' font-size="18" font-style="italic" fill="#000" text-anchor="start" >y</text>
<text x="58" y="450" font-family='"Liberation Serif", serif' font-size="18" font-style="italic" fill="#000" text-anchor="start" >x</text>
<text x="392" y="319.6" font-family='"Liberation Sans", sans-serif' font-size="14" fill="#ee1111" text-anchor="start" >Monopolar</text>
<polygon points="406.1,345.3 494.2,314.9 511.9,369.1 511.0,400.8 415.9,438.5" fill="#800000"/>
<polygon points="414.6,404.5 511.9,369.1 511.0,400.8 416.6,438.5" fill="url(#mfront)"/>
<polygon points="406.1,345.3 408.6,346.5 418.2,438.2 415.9,438.6" fill="url(#mleft)"/>
<ellipse cx="458.1" cy="357" rx="36" ry="18.6" fill="url(#mhalo)"/>
<path d="M425.8,350.5 L425.8,355.8 A32.3,15.9 0 0 0 490.4,355.8 L490.4,350.5 Z" fill="url(#mside)"/>
<ellipse cx="458.1" cy="350.5" rx="32.3" ry="15.9" fill="url(#mtop)" stroke="#255" stroke-width="0.4"/>
<line x1="430" y1="359" x2="430" y2="364" stroke="#355" stroke-width="0.4"/><line x1="485.5" y1="360" x2="485.5" y2="365" stroke="#355" stroke-width="0.4"/>
<line x1="415.9" y1="405.8" x2="511.9" y2="369.1" stroke="#300" stroke-width="0.5"/>
<text x="562.8" y="320.3" font-family='"Liberation Sans", sans-serif' font-size="14.3" fill="#1a1ae6" text-anchor="start" >Dipolar</text>
<polygon points="574.0,345.9 584.6,406.3 584.6,439.2" fill="url(#dleft)"/>
<polygon points="584.6,406.3 679.4,368.6 678.4,400.5 584.6,439.2" fill="url(#dfront)"/>
<g clip-path="url(#dfrc)"><ellipse cx="607" cy="401" rx="18" ry="8" transform="rotate(-22 607 401)" fill="url(#yb)"/><ellipse cx="657" cy="404" rx="18" ry="8" transform="rotate(-22 657 404)" fill="url(#yb)"/><ellipse cx="655" cy="382" rx="26" ry="7" transform="rotate(-22 655 382)" fill="url(#cglow)" opacity="0.8"/><ellipse cx="612" cy="428" rx="22" ry="7" transform="rotate(-22 612 428)" fill="url(#cglow)" opacity="0.6"/></g>
<polygon points="574.0,345.9 662.0,314.5 679.4,368.6 584.6,406.3" fill="url(#dtop)"/>
<g clip-path="url(#dtopc)"><ellipse cx="607" cy="398" rx="17" ry="7.5" transform="rotate(-22 607 398)" fill="url(#yb)"/><ellipse cx="591" cy="356" rx="21" ry="17" fill="url(#rglow)"/><ellipse cx="668" cy="352" rx="16" ry="14" fill="url(#cglow)" opacity="0.7"/><ellipse cx="646" cy="369" rx="29" ry="12" transform="rotate(-15 646 369)" fill="url(#bglow)"/></g>
<path d="M593.6,350.4 L593.6,357.5 A32.6,16 0 0 0 658.8,357.5 L658.8,350.4 Z" fill="url(#dside)" stroke="#333" stroke-width="0.4"/>
<ellipse cx="626.2" cy="350.4" rx="32.6" ry="16" fill="url(#dcyl)" stroke="#222" stroke-width="0.4"/>
<polygon points="574.0,345.9 662.0,314.5 679.4,368.6 678.4,400.5 584.6,439.2" fill="none" stroke="#333" stroke-width="0.5"/>
<line x1="584.6" y1="406.3" x2="679.4" y2="368.6" stroke="#333" stroke-width="0.5"/>
<line x1="584.6" y1="406.3" x2="584.6" y2="439.2" stroke="#333" stroke-width="0.4"/>
<rect x="700" y="326.3" width="5.8" height="92.5" fill="url(#cbv)"/>
<text x="698.6" y="316.3" font-family='"Liberation Sans", sans-serif' font-size="15.5" fill="#000" text-anchor="start" >1</text>
<text x="693.5" y="438.7" font-family='"Liberation Sans", sans-serif' font-size="15.5" fill="#000" text-anchor="start" >-1</text>
<text transform="translate(729.8,436) rotate(-90)" font-family='"Liberation Sans", sans-serif' font-size="11.2" fill="#111">Normalized pressure(Pa)</text>
<g clip-path="url(#clipd)"><path d="M87.80,510.00 C90.33,513.17 97.80,522.90 103.00,529.00 C108.20,535.10 115.17,542.68 119.00,546.60 C122.83,550.52 123.50,551.10 126.00,552.50 C128.50,553.90 131.50,554.83 134.00,555.00 C136.50,555.17 138.83,554.30 141.00,553.50 C143.17,552.70 145.00,551.53 147.00,550.20 C149.00,548.87 150.83,547.48 153.00,545.50 C155.17,543.52 157.42,541.45 160.00,538.30 C162.58,535.15 166.25,529.82 168.50,526.60 C170.75,523.38 171.72,521.77 173.50,519.00 C175.28,516.23 178.25,511.50 179.20,510.00" fill="none" stroke="#000" stroke-width="3.35" stroke-linecap="round" stroke-linejoin="round"/><path d="M133.30,510.40 C134.42,511.25 137.77,513.95 140.00,515.50 C142.23,517.05 143.82,518.23 146.70,519.70 C149.58,521.17 153.70,523.20 157.30,524.30 C160.90,525.40 164.52,526.30 168.30,526.30 C172.08,526.30 176.50,525.52 180.00,524.30 C183.50,523.08 186.30,521.32 189.30,519.00 C192.30,516.68 196.55,511.83 198.00,510.40" fill="none" stroke="#000" stroke-width="3.35" stroke-linecap="round" stroke-linejoin="round"/><path d="M158.20,510.00 C159.08,511.38 161.78,515.50 163.50,518.30 C165.22,521.10 166.75,524.27 168.50,526.80 C170.25,529.33 172.08,530.92 174.00,533.50 C175.92,536.08 177.50,539.05 180.00,542.30 C182.50,545.55 185.63,550.02 189.00,553.00 C192.37,555.98 196.20,558.67 200.20,560.20 C204.20,561.73 208.73,562.20 213.00,562.20 C217.27,562.20 221.80,561.47 225.80,560.20 C229.80,558.93 232.47,557.27 237.00,554.60 C241.53,551.93 247.67,547.80 253.00,544.20 C258.33,540.60 264.60,536.07 269.00,533.00 C273.40,529.93 277.67,527.00 279.40,525.80" fill="none" stroke="#000" stroke-width="3.35" stroke-linecap="round" stroke-linejoin="round"/><path d="M57.40,615.60 C59.67,615.47 66.07,615.47 71.00,614.80 C75.93,614.13 81.67,613.20 87.00,611.60 C92.33,610.00 97.67,607.47 103.00,605.20 C108.33,602.93 114.60,599.73 119.00,598.00 C123.40,596.27 126.40,595.17 129.40,594.80 C132.40,594.43 134.73,595.18 137.00,595.80 C139.27,596.42 140.67,597.20 143.00,598.50 C145.33,599.80 148.33,601.68 151.00,603.60 C153.67,605.52 156.67,608.43 159.00,610.00 C161.33,611.57 163.27,612.40 165.00,613.00 C166.73,613.60 168.67,613.50 169.40,613.60" fill="none" stroke="#0000ff" stroke-width="3.35" stroke-linecap="round" stroke-linejoin="round"/><path d="M57.40,636.10 C59.67,635.88 66.07,635.42 71.00,634.80 C75.93,634.18 81.67,633.47 87.00,632.40 C92.33,631.33 97.67,629.87 103.00,628.40 C108.33,626.93 113.67,625.20 119.00,623.60 C124.33,622.00 129.67,620.18 135.00,618.80 C140.33,617.42 146.20,616.15 151.00,615.30 C155.80,614.45 160.73,614.00 163.80,613.70 C166.87,613.40 168.47,613.53 169.40,613.50" fill="none" stroke="#0000ff" stroke-width="3.35" stroke-linecap="round" stroke-linejoin="round"/><path d="M169.00,613.50 C169.83,613.32 172.33,613.27 174.00,612.40 C175.67,611.53 176.50,610.73 179.00,608.30 C181.50,605.87 184.67,602.22 189.00,597.80 C193.33,593.38 199.67,587.13 205.00,581.80 C210.33,576.47 215.67,570.87 221.00,565.80 C226.33,560.73 231.67,556.20 237.00,551.40 C242.33,546.60 248.33,541.07 253.00,537.00 C257.67,532.93 262.00,529.40 265.00,527.00 C268.00,524.60 269.27,523.63 271.00,522.60 C272.73,521.57 274.00,520.67 275.40,520.80 C276.80,520.93 278.73,522.97 279.40,523.40" fill="none" stroke="#0000ff" stroke-width="3.35" stroke-linecap="round" stroke-linejoin="round"/><path d="M169.00,613.50 C170.00,613.58 173.00,613.68 175.00,614.00 C177.00,614.32 178.67,614.70 181.00,615.40 C183.33,616.10 186.17,616.87 189.00,618.20 C191.83,619.53 193.75,620.35 198.00,623.40 C202.25,626.45 208.72,631.30 214.50,636.50 C220.28,641.70 226.85,648.90 232.70,654.60 C238.55,660.30 243.95,665.47 249.60,670.70 C255.25,675.93 261.65,681.62 266.60,686.00 C271.55,690.38 277.18,695.17 279.30,697.00" fill="none" stroke="#0000ff" stroke-width="3.35" stroke-linecap="round" stroke-linejoin="round"/><path d="M57.50,716.90 C59.90,716.53 66.67,716.20 71.90,714.70 C77.13,713.20 83.25,711.00 88.90,707.90 C94.55,704.80 100.17,700.60 105.80,696.10 C111.43,691.60 117.07,686.40 122.70,680.90 C128.33,675.40 133.95,668.60 139.60,663.10 C145.25,657.60 152.70,651.08 156.60,647.90 C160.50,644.72 161.02,644.88 163.00,644.00 C164.98,643.12 166.67,642.52 168.50,642.60 C170.33,642.68 172.33,643.48 174.00,644.50 C175.67,645.52 175.77,645.88 178.50,648.70 C181.23,651.52 185.60,656.32 190.40,661.40 C195.20,666.48 201.67,673.98 207.30,679.20 C212.93,684.42 218.55,688.75 224.20,692.70 C229.85,696.65 236.12,700.70 241.20,702.90 C246.28,705.10 249.90,705.90 254.70,705.90 C259.50,705.90 265.90,704.20 270.00,702.90 C274.10,701.60 277.75,698.90 279.30,698.10" fill="none" stroke="#ff0000" stroke-width="3.35" stroke-linecap="round" stroke-linejoin="round"/></g>
<rect x="57.6" y="510.7" width="222.20000000000002" height="251.8" fill="none" stroke="#000" stroke-width="1.7"/>
<line x1="57.6" y1="731.02" x2="60.800000000000004" y2="731.02" stroke="#000" stroke-width="1.5"/>
<line x1="57.6" y1="699.55" x2="62.1" y2="699.55" stroke="#000" stroke-width="1.5"/>
<line x1="57.6" y1="668.08" x2="60.800000000000004" y2="668.08" stroke="#000" stroke-width="1.5"/>
<line x1="57.6" y1="636.60" x2="62.1" y2="636.60" stroke="#000" stroke-width="1.5"/>
<line x1="57.6" y1="605.12" x2="60.800000000000004" y2="605.12" stroke="#000" stroke-width="1.5"/>
<line x1="57.6" y1="573.65" x2="62.1" y2="573.65" stroke="#000" stroke-width="1.5"/>
<line x1="57.6" y1="542.17" x2="60.800000000000004" y2="542.17" stroke="#000" stroke-width="1.5"/>
<line x1="57.60" y1="762.5" x2="57.60" y2="766.5" stroke="#000" stroke-width="1.5"/>
<line x1="168.70" y1="762.5" x2="168.70" y2="766.5" stroke="#000" stroke-width="1.5"/>
<line x1="279.80" y1="762.5" x2="279.80" y2="766.5" stroke="#000" stroke-width="1.5"/>
<text transform="translate(57.1,782.3) scale(0.86,1)" font-family='"Liberation Serif", serif' font-size="17" text-anchor="middle">M</text>
<text transform="translate(169.1,782.3) scale(0.86,1)" font-family='"Liberation Serif", serif' font-size="17" text-anchor="middle">Γ</text>
<text transform="translate(276.2,782.3) scale(0.86,1)" font-family='"Liberation Serif", serif' font-size="17" text-anchor="middle">K</text>
<g clip-path="url(#clipe)"><path d="M287.50,546.90 C289.58,547.38 295.25,547.98 300.00,549.80 C304.75,551.62 310.67,554.87 316.00,557.80 C321.33,560.73 327.20,565.13 332.00,567.40 C336.80,569.67 340.80,571.13 344.80,571.40 C348.80,571.67 351.47,571.27 356.00,569.00 C360.53,566.73 366.67,562.33 372.00,557.80 C377.33,553.27 383.47,546.87 388.00,541.80 C392.53,536.73 396.62,530.95 399.20,527.40 C401.78,523.85 401.70,523.32 403.50,520.50 C405.30,517.68 408.92,512.17 410.00,510.50" fill="none" stroke="#000" stroke-width="3.35" stroke-linecap="round" stroke-linejoin="round"/><path d="M354.50,510.50 C355.75,511.33 359.08,513.88 362.00,515.50 C364.92,517.12 367.67,518.48 372.00,520.20 C376.33,521.92 383.47,524.57 388.00,525.80 C392.53,527.03 395.37,527.73 399.20,527.60 C403.03,527.47 406.90,526.23 411.00,525.00 C415.10,523.77 419.38,522.62 423.80,520.20 C428.22,517.78 435.22,512.12 437.50,510.50" fill="none" stroke="#000" stroke-width="3.35" stroke-linecap="round" stroke-linejoin="round"/><path d="M387.30,510.50 C388.25,511.92 391.02,516.18 393.00,519.00 C394.98,521.82 397.27,524.67 399.20,527.40 C401.13,530.13 402.10,532.20 404.60,535.40 C407.10,538.60 410.47,542.33 414.20,546.60 C417.93,550.87 422.73,556.67 427.00,561.00 C431.27,565.33 435.80,569.63 439.80,572.60 C443.80,575.57 447.27,577.40 451.00,578.80 C454.73,580.20 458.20,580.88 462.20,581.00 C466.20,581.12 470.20,580.75 475.00,579.50 C479.80,578.25 485.13,575.65 491.00,573.50 C496.87,571.35 507.00,567.75 510.20,566.60" fill="none" stroke="#000" stroke-width="3.35" stroke-linecap="round" stroke-linejoin="round"/><path d="M287.50,621.80 C289.58,621.67 295.25,621.67 300.00,621.00 C304.75,620.33 310.67,618.60 316.00,617.80 C321.33,617.00 328.00,616.28 332.00,616.20 C336.00,616.12 337.33,616.58 340.00,617.30 C342.67,618.02 345.00,618.63 348.00,620.50 C351.00,622.37 354.57,625.63 358.00,628.50 C361.43,631.37 364.00,633.63 368.60,637.70 C373.20,641.77 380.37,648.17 385.60,652.90 C390.83,657.63 397.60,663.90 400.00,666.10" fill="none" stroke="#8000ff" stroke-width="3.35" stroke-linecap="round" stroke-linejoin="round"/><path d="M287.40,678.80 C291.07,678.43 301.50,677.67 309.40,676.60 C317.30,675.53 326.33,673.72 334.80,672.40 C343.27,671.08 352.30,669.68 360.20,668.70 C368.10,667.72 375.57,666.93 382.20,666.50 C388.83,666.07 397.03,666.17 400.00,666.10" fill="none" stroke="#8000ff" stroke-width="3.35" stroke-linecap="round" stroke-linejoin="round"/><path d="M287.40,733.30 C291.07,732.75 302.92,731.83 309.40,730.00 C315.88,728.17 320.67,725.55 326.30,722.30 C331.93,719.05 337.55,714.87 343.20,710.50 C348.85,706.13 354.55,700.90 360.20,696.10 C365.85,691.30 371.75,685.93 377.10,681.70 C382.45,677.47 388.48,673.30 392.30,670.70 C396.12,668.10 398.72,666.87 400.00,666.10" fill="none" stroke="#8000ff" stroke-width="3.35" stroke-linecap="round" stroke-linejoin="round"/><path d="M399.50,666.00 C400.77,664.15 403.82,659.18 407.10,654.90 C410.38,650.62 415.17,645.08 419.20,640.30 C423.23,635.52 427.27,630.87 431.30,626.20 C435.33,621.53 439.37,616.73 443.40,612.30 C447.43,607.87 451.47,603.63 455.50,599.60 C459.53,595.57 463.57,591.82 467.60,588.10 C471.63,584.38 475.80,580.40 479.70,577.30 C483.60,574.20 487.95,571.42 491.00,569.50 C494.05,567.58 495.87,566.72 498.00,565.80 C500.13,564.88 502.22,564.25 503.80,564.00 C505.38,563.75 506.43,564.00 507.50,564.30 C508.57,564.60 509.75,565.55 510.20,565.80" fill="none" stroke="#8000ff" stroke-width="3.35" stroke-linecap="round" stroke-linejoin="round"/><path d="M399.50,666.10 C401.25,666.18 406.52,666.25 410.00,666.60 C413.48,666.95 416.57,667.30 420.40,668.20 C424.23,669.10 428.77,670.45 433.00,672.00 C437.23,673.55 440.85,674.90 445.80,677.50 C450.75,680.10 457.07,683.93 462.70,687.60 C468.33,691.27 473.95,695.68 479.60,699.50 C485.25,703.32 491.52,707.55 496.60,710.50 C501.68,713.45 507.85,716.08 510.10,717.20" fill="none" stroke="#8000ff" stroke-width="3.35" stroke-linecap="round" stroke-linejoin="round"/><path d="M399.50,666.10 C400.17,666.87 400.02,666.83 403.50,670.70 C406.98,674.57 414.77,683.38 420.40,689.30 C426.03,695.22 431.67,701.40 437.30,706.20 C442.93,711.00 449.58,715.38 454.20,718.10 C458.82,720.82 461.33,721.37 465.00,722.50 C468.67,723.63 472.87,724.57 476.20,724.90 C479.53,725.23 482.17,724.93 485.00,724.50 C487.83,724.07 489.02,723.52 493.20,722.30 C497.38,721.08 507.28,718.05 510.10,717.20" fill="none" stroke="#8000ff" stroke-width="3.35" stroke-linecap="round" stroke-linejoin="round"/></g>
<rect x="287.4" y="511.3" width="223.20000000000005" height="252.3" fill="none" stroke="#000" stroke-width="1.7"/>
<line x1="287.4" y1="732.06" x2="290.59999999999997" y2="732.06" stroke="#000" stroke-width="1.5"/>
<line x1="287.4" y1="700.52" x2="291.9" y2="700.52" stroke="#000" stroke-width="1.5"/>
<line x1="287.4" y1="668.99" x2="290.59999999999997" y2="668.99" stroke="#000" stroke-width="1.5"/>
<line x1="287.4" y1="637.45" x2="291.9" y2="637.45" stroke="#000" stroke-width="1.5"/>
<line x1="287.4" y1="605.91" x2="290.59999999999997" y2="605.91" stroke="#000" stroke-width="1.5"/>
<line x1="287.4" y1="574.38" x2="291.9" y2="574.38" stroke="#000" stroke-width="1.5"/>
<line x1="287.4" y1="542.84" x2="290.59999999999997" y2="542.84" stroke="#000" stroke-width="1.5"/>
<line x1="287.40" y1="763.6" x2="287.40" y2="767.6" stroke="#000" stroke-width="1.5"/>
<line x1="399.00" y1="763.6" x2="399.00" y2="767.6" stroke="#000" stroke-width="1.5"/>
<line x1="510.60" y1="763.6" x2="510.60" y2="767.6" stroke="#000" stroke-width="1.5"/>
<text transform="translate(289.9,782.3) scale(0.86,1)" font-family='"Liberation Serif", serif' font-size="17" text-anchor="middle">M</text>
<text transform="translate(400.8,782.3) scale(0.86,1)" font-family='"Liberation Serif", serif' font-size="17" text-anchor="middle">Γ</text>
<text transform="translate(511.4,782.3) scale(0.86,1)" font-family='"Liberation Serif", serif' font-size="17" text-anchor="middle">K</text>
<g clip-path="url(#clipf)"><path d="M520.80,587.40 C522.67,587.53 527.47,587.85 532.00,588.20 C536.53,588.55 543.20,589.50 548.00,589.50 C552.80,589.50 556.80,589.22 560.80,588.20 C564.80,587.18 567.47,586.07 572.00,583.40 C576.53,580.73 582.67,576.73 588.00,572.20 C593.33,567.67 598.67,561.80 604.00,556.20 C609.33,550.60 615.33,543.40 620.00,538.60 C624.67,533.80 629.25,530.42 632.00,527.40 C634.75,524.38 634.67,523.23 636.50,520.50 C638.33,517.77 641.92,512.58 643.00,511.00" fill="none" stroke="#000" stroke-width="3.35" stroke-linecap="round" stroke-linejoin="round"/><path d="M578.00,511.00 C579.67,511.75 585.00,514.10 588.00,515.50 C591.00,516.90 592.00,517.82 596.00,519.40 C600.00,520.98 606.00,523.63 612.00,525.00 C618.00,526.37 626.67,527.47 632.00,527.60 C637.33,527.73 639.33,527.03 644.00,525.80 C648.67,524.57 654.23,522.67 660.00,520.20 C665.77,517.73 675.50,512.53 678.60,511.00" fill="none" stroke="#000" stroke-width="3.35" stroke-linecap="round" stroke-linejoin="round"/><path d="M621.00,511.00 C621.92,512.33 624.67,516.27 626.50,519.00 C628.33,521.73 630.15,524.93 632.00,527.40 C633.85,529.87 634.27,529.80 637.60,533.80 C640.93,537.80 646.93,545.53 652.00,551.40 C657.07,557.27 664.00,564.48 668.00,569.00 C672.00,573.52 673.33,575.75 676.00,578.50 C678.67,581.25 680.67,583.25 684.00,585.50 C687.33,587.75 692.00,590.32 696.00,592.00 C700.00,593.68 704.00,594.77 708.00,595.60 C712.00,596.43 716.00,596.88 720.00,597.00 C724.00,597.12 728.13,596.53 732.00,596.30 C735.87,596.07 741.33,595.72 743.20,595.60" fill="none" stroke="#000" stroke-width="3.35" stroke-linecap="round" stroke-linejoin="round"/><path d="M728.00,510.50 C729.00,510.83 732.17,511.95 734.00,512.50 C735.83,513.05 737.33,513.42 739.00,513.80 C740.67,514.18 743.17,514.63 744.00,514.80" fill="none" stroke="#000" stroke-width="3.35" stroke-linecap="round" stroke-linejoin="round"/><path d="M520.50,625.30 C523.17,625.37 530.40,624.95 536.50,625.70 C542.60,626.45 550.25,626.90 557.10,629.80 C563.95,632.70 570.75,638.13 577.60,643.10 C584.45,648.07 592.03,654.80 598.20,659.60 C604.37,664.40 610.30,669.17 614.60,671.90 C618.90,674.63 621.18,675.15 624.00,676.00 C626.82,676.85 629.17,677.08 631.50,677.00 C633.83,676.92 635.85,676.35 638.00,675.50 C640.15,674.65 642.40,673.23 644.40,671.90 C646.40,670.57 647.20,670.02 650.00,667.50 C652.80,664.98 657.53,660.28 661.20,656.80 C664.87,653.32 668.20,650.40 672.00,646.60 C675.80,642.80 680.00,638.20 684.00,634.00 C688.00,629.80 692.00,625.40 696.00,621.40 C700.00,617.40 704.00,613.40 708.00,610.00 C712.00,606.60 716.40,603.30 720.00,601.00 C723.60,598.70 726.60,597.27 729.60,596.20 C732.60,595.13 735.80,594.88 738.00,594.60 C740.20,594.32 742.00,594.52 742.80,594.50" fill="none" stroke="#ff0000" stroke-width="3.35" stroke-linecap="round" stroke-linejoin="round"/><path d="M520.50,716.70 C524.88,716.43 537.28,715.78 546.80,715.10 C556.32,714.42 567.32,713.40 577.60,712.60 C587.88,711.80 599.52,710.85 608.50,710.30 C617.48,709.75 623.12,709.18 631.50,709.30 C639.88,709.42 649.12,709.35 658.80,711.00 C668.48,712.65 679.32,715.78 689.60,719.20 C699.88,722.62 711.77,727.98 720.50,731.50 C729.23,735.02 738.42,738.83 742.00,740.30" fill="none" stroke="#0000ff" stroke-width="3.35" stroke-linecap="round" stroke-linejoin="round"/><path d="M520.50,752.00 C523.17,751.83 530.40,752.02 536.50,751.00 C542.60,749.98 550.25,748.30 557.10,745.90 C563.95,743.50 570.75,740.20 577.60,736.60 C584.45,733.00 592.03,728.07 598.20,724.30 C604.37,720.53 610.30,716.33 614.60,714.00 C618.90,711.67 621.18,711.08 624.00,710.30 C626.82,709.52 629.17,709.27 631.50,709.30 C633.83,709.33 635.85,709.88 638.00,710.50 C640.15,711.12 640.93,710.87 644.40,713.00 C647.87,715.13 652.97,719.37 658.80,723.30 C664.63,727.23 672.55,733.18 679.40,736.60 C686.25,740.02 694.08,742.25 699.90,743.80 C705.72,745.35 709.17,745.90 714.30,745.90 C719.43,745.90 726.08,744.73 730.70,743.80 C735.32,742.87 740.12,740.88 742.00,740.30" fill="none" stroke="#0000ff" stroke-width="3.35" stroke-linecap="round" stroke-linejoin="round"/></g>
<rect x="520.8" y="511.8" width="222.20000000000005" height="251.59999999999997" fill="none" stroke="#000" stroke-width="1.7"/>
<line x1="520.8" y1="731.95" x2="524.0" y2="731.95" stroke="#000" stroke-width="1.5"/>
<line x1="520.8" y1="700.50" x2="525.3" y2="700.50" stroke="#000" stroke-width="1.5"/>
<line x1="520.8" y1="669.05" x2="524.0" y2="669.05" stroke="#000" stroke-width="1.5"/>
<line x1="520.8" y1="637.60" x2="525.3" y2="637.60" stroke="#000" stroke-width="1.5"/>
<line x1="520.8" y1="606.15" x2="524.0" y2="606.15" stroke="#000" stroke-width="1.5"/>
<line x1="520.8" y1="574.70" x2="525.3" y2="574.70" stroke="#000" stroke-width="1.5"/>
<line x1="520.8" y1="543.25" x2="524.0" y2="543.25" stroke="#000" stroke-width="1.5"/>
<line x1="520.80" y1="763.4" x2="520.80" y2="767.4" stroke="#000" stroke-width="1.5"/>
<line x1="631.90" y1="763.4" x2="631.90" y2="767.4" stroke="#000" stroke-width="1.5"/>
<line x1="743.00" y1="763.4" x2="743.00" y2="767.4" stroke="#000" stroke-width="1.5"/>
<text transform="translate(525.2,782.3) scale(0.86,1)" font-family='"Liberation Serif", serif' font-size="17" text-anchor="middle">M</text>
<text transform="translate(633.2,782.3) scale(0.86,1)" font-family='"Liberation Serif", serif' font-size="17" text-anchor="middle">Γ</text>
<text transform="translate(743.1,782.3) scale(0.86,1)" font-family='"Liberation Serif", serif' font-size="17" text-anchor="middle">K</text>
<text x="52.6" y="767.1" font-family='"Liberation Sans", sans-serif' font-size="12.8" fill="#222" text-anchor="end" >1.6</text>
<text x="52.6" y="704.1" font-family='"Liberation Sans", sans-serif' font-size="12.8" fill="#222" text-anchor="end" >1.7</text>
<text x="52.6" y="641.2" font-family='"Liberation Sans", sans-serif' font-size="12.8" fill="#222" text-anchor="end" >1.8</text>
<text x="52.6" y="578.2" font-family='"Liberation Sans", sans-serif' font-size="12.8" fill="#222" text-anchor="end" >1.9</text>
<text x="52.6" y="515.3" font-family='"Liberation Sans", sans-serif' font-size="12.8" fill="#222" text-anchor="end" >2.0</text>
<g transform="translate(18.4,696.9) rotate(-90)" font-family='"Liberation Serif", serif' font-size="20.8"><text x="0" y="0" textLength="86" lengthAdjust="spacingAndGlyphs">Frequency</text><text x="92.4" y="0">(</text><text x="99.8" y="0" font-style="italic" font-size="22">a</text><text x="111.2" y="0.8" font-size="25">/</text><text x="122.6" y="0" font-style="italic">c</text><text x="133.2" y="3" font-size="14">0</text><text x="140" y="0">)</text></g>
<text x="156" y="494.2" font-family='"Liberation Sans", sans-serif' font-size="21.5" fill="#000" text-anchor="start" >(d)</text>
<text x="386" y="494.2" font-family='"Liberation Sans", sans-serif' font-size="21.5" fill="#000" text-anchor="start" >(e)</text>
<text x="620" y="494.2" font-family='"Liberation Sans", sans-serif' font-size="21.5" fill="#000" text-anchor="start" >(f)</text>
<g font-family='"Liberation Serif", serif'><text x="111.6" y="820.2" font-size="21" font-style="italic">h</text><text x="122.19999999999999" y="823.7" font-size="15">1</text><text x="136.2" y="820.2" font-size="21" textLength="13.2" lengthAdjust="spacingAndGlyphs">=</text><text x="158.6" y="820.2" font-size="21" textLength="23.2" lengthAdjust="spacingAndGlyphs">1.3</text><text x="181.6" y="820.2" font-size="21" font-style="italic">h</text><text x="194.0" y="823.7" font-size="15">0</text></g>
<g font-family='"Liberation Serif", serif'><text x="347.4" y="820.2" font-size="21" font-style="italic">h</text><text x="358.0" y="823.7" font-size="15">1</text><text x="372.0" y="820.2" font-size="21" textLength="13.2" lengthAdjust="spacingAndGlyphs">=</text><text x="392.6" y="820.2" font-size="21" textLength="36" lengthAdjust="spacingAndGlyphs">1.46</text><text x="427.8" y="820.2" font-size="21" font-style="italic">h</text><text x="440.2" y="823.7" font-size="15">0</text></g>
<g font-family='"Liberation Serif", serif'><text x="593.8" y="820.2" font-size="21" font-style="italic">h</text><text x="604.4" y="823.7" font-size="15">1</text><text x="618.4" y="820.2" font-size="21" textLength="13.2" lengthAdjust="spacingAndGlyphs">=</text><text x="639.9" y="820.2" font-size="21" textLength="25.2" lengthAdjust="spacingAndGlyphs">1.6</text><text x="665.1" y="820.2" font-size="21" font-style="italic">h</text><text x="677.5" y="823.7" font-size="15">0</text></g>
<polygon points="368.0,600.9 381.3,576.3 408.5,576.3 421.9,600.9 408.5,625.4 381.3,625.4" fill="none" stroke="#000" stroke-width="2.4"/>
<polyline points="394.3,576.3 394.3,604 408.5,576.3" fill="none" stroke="#000" stroke-width="2.4" stroke-linejoin="miter"/>
<text transform="translate(395,573.8) scale(0.86,1)" font-family='"Liberation Serif", serif' font-size="14" text-anchor="middle">M</text>
<text transform="translate(414.4,574.2) scale(0.9,1)" font-family='"Liberation Serif", serif' font-size="14" text-anchor="middle">K</text>
<text transform="translate(395.8,619.6) scale(0.86,1)" font-family='"Liberation Serif", serif' font-size="14" text-anchor="middle">Γ</text>
</svg></body></html>
